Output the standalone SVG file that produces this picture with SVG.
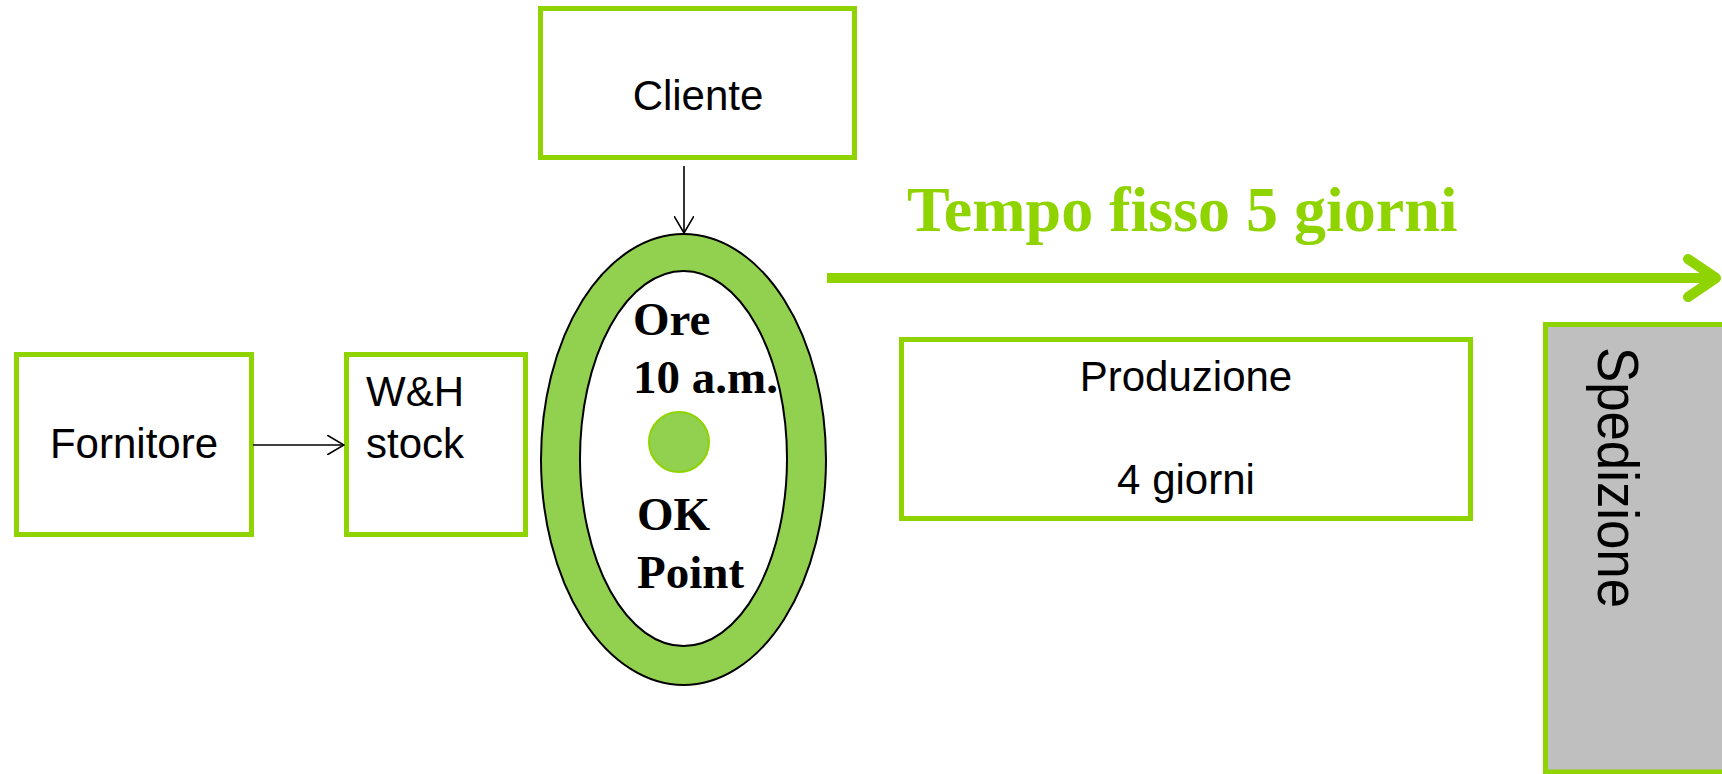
<svg xmlns="http://www.w3.org/2000/svg" width="1722" height="774" viewBox="0 0 1722 774">
<style>
.box{fill:#ffffff;stroke:#8FD400;stroke-width:5}
.lbl{font-family:"Liberation Sans",Arial,sans-serif;font-size:42px;fill:#000000}
.bold{font-family:"Liberation Serif","Times New Roman",serif;font-weight:bold;font-size:47px;fill:#000000}
.conn{stroke:#000000;stroke-width:1.6;fill:none}
</style>
<defs>
<marker id="open" viewBox="0 0 18 20" markerWidth="18" markerHeight="20" refX="17" refY="10" orient="auto" markerUnits="userSpaceOnUse">
<path d="M0,0 L17,10 L0,20" fill="none" stroke="#000000" stroke-width="1.6"/>
</marker>
</defs>
<rect width="1722" height="774" fill="#ffffff"/>
<g id="cliente">
<rect class="box" x="540.5" y="8.5" width="314" height="149"/>
<text class="lbl" x="698" y="110" text-anchor="middle">Cliente</text>
</g>
<g id="fornitore">
<rect class="box" x="16.5" y="354.5" width="235" height="180"/>
<text class="lbl" x="134" y="458" text-anchor="middle">Fornitore</text>
</g>
<g id="wh-stock">
<rect class="box" x="346.5" y="354.5" width="179" height="180"/>
<text class="lbl" x="366" y="406">W&amp;H</text>
<text class="lbl" x="366" y="458">stock</text>
</g>
<g id="ok-point">
<ellipse cx="683.5" cy="459.5" rx="142.5" ry="225.5" fill="#92D050" stroke="#000000" stroke-width="2"/>
<ellipse cx="683.5" cy="458.5" rx="103.5" ry="187.5" fill="#ffffff" stroke="#000000" stroke-width="2"/>
<circle cx="679" cy="442" r="30" fill="#92D050" stroke="#8FD400" stroke-width="2"/>
<text class="bold" x="633" y="335">Ore</text>
<text class="bold" x="633" y="393">10 a.m.</text>
<text class="bold" x="637" y="530">OK</text>
<text class="bold" x="637" y="588">Point</text>
</g>
<g id="tempo">
<text x="907" y="231" font-family="'Liberation Serif','Times New Roman',serif" font-weight="bold" font-size="64" fill="#8FD400">Tempo fisso 5 giorni</text>
<line x1="827" y1="278" x2="1714" y2="278" stroke="#8FD400" stroke-width="10"/>
<polyline points="1688,259 1716,278 1688,297" fill="none" stroke="#8FD400" stroke-width="10" stroke-linecap="round" stroke-linejoin="round"/>
</g>
<g id="produzione">
<rect class="box" x="901.5" y="339.5" width="569" height="179"/>
<text class="lbl" x="1186" y="391" text-anchor="middle">Produzione</text>
<text class="lbl" x="1186" y="494" text-anchor="middle">4 giorni</text>
</g>
<g id="spedizione">
<rect x="1545.5" y="324.5" width="200" height="447.5" fill="#BFBFBF" stroke="#8FD400" stroke-width="5"/>
<text transform="translate(1598,347) rotate(90)" x="0" y="0" font-family="'Liberation Sans',Arial,sans-serif" font-size="57" fill="#000000" textLength="261" lengthAdjust="spacingAndGlyphs">Spedizione</text>
</g>
<g id="connectors">
<line class="conn" x1="253" y1="445" x2="344" y2="445" marker-end="url(#open)"/>
<line class="conn" x1="684" y1="166" x2="684" y2="233" marker-end="url(#open)"/>
</g>
</svg>
